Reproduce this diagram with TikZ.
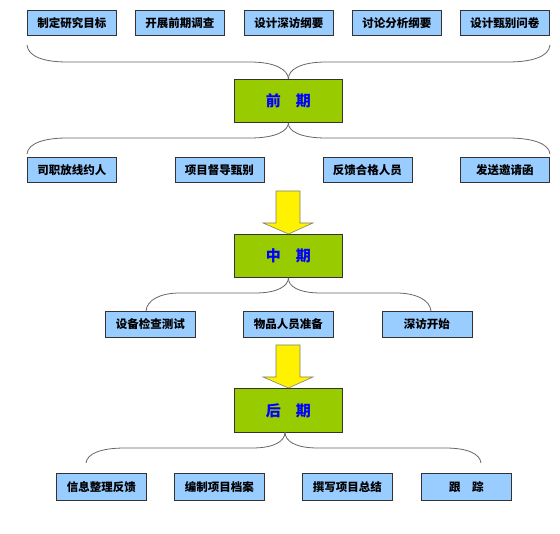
\documentclass[tikz,border=0pt]{standalone}
\usepackage{fontspec}
\newfontfamily\cjk{Noto Sans CJK SC}
\definecolor{itemblue}{HTML}{99CCFF}
\definecolor{phasegreen}{HTML}{99CC00}
\definecolor{bracegray}{HTML}{666666}
\definecolor{arrowedge}{HTML}{7F7F7F}
\begin{document}
\begin{tikzpicture}[x=1pt,y=-1pt,
  item/.style={draw=black!80, line width=0.9pt, fill=itemblue, minimum width=89pt, minimum height=25pt, inner sep=0pt, anchor=north west, font=\cjk\bfseries\fontsize{11.5}{12}\selectfont},
  phase/.style={draw=black!80, line width=0.9pt, fill=phasegreen, minimum width=108pt, minimum height=43pt, inner sep=0pt, anchor=north west, text=blue, font=\cjk\bfseries\fontsize{15}{16}\selectfont},
  bracecurve/.style={draw=bracegray, line width=0.8pt},
  blockarrow/.style={draw=arrowedge, line width=0.6pt, fill=yellow}]
\useasboundingbox (0,0) rectangle (560,534);
% row 1
\node[item] (a1) at (27,10) {制定研究目标};
\node[item] (a2) at (135,10) {开展前期调查};
\node[item] (a3) at (244,10) {设计深访纲要};
\node[item] (a4) at (352,10) {讨论分析纲要};
\node[item] (a5) at (460,10) {设计甄别问卷};
% phase 1
\node[phase] (qq) at (234,79) {前　期};
% row 2
\node[item] (b1) at (27,157) {司职放线约人};
\node[item] (b2) at (174.5,157) {项目督导甄别};
\node[item] (b3) at (322.5,157) {反馈合格人员};
\node[item] (b4) at (460,157) {发送邀请函};
% phase 2
\node[phase] (zq) at (234,234) {中　期};
% row 3
\node[item, minimum width=90pt, minimum height=26pt] (c1) at (105,311) {设备检查测试};
\node[item, minimum width=90pt, minimum height=26pt] (c2) at (243,311) {物品人员准备};
\node[item, minimum width=90pt, minimum height=26pt] (c3) at (381.5,311) {深访开始};
% phase 3
\node[phase, minimum height=44pt] (hq) at (234,388) {后　期};
% row 4
\node[item, minimum width=90pt, minimum height=27pt] (d1) at (56,473) {信息整理反馈};
\node[item, minimum width=90pt, minimum height=27pt] (d2) at (174,473) {编制项目档案};
\node[item, minimum width=90pt, minimum height=27pt] (d3) at (302,473) {撰写项目总结};
\node[item, minimum width=90pt, minimum height=27pt] (d4) at (421,473) {跟　踪};
% brace end points
\coordinate (e1l) at (27,45);
\coordinate (e1r) at (550,45);
\coordinate (e2l) at (27,154);
\coordinate (e2r) at (550,154);
\coordinate (e3l) at (146,311);
\coordinate (e3r) at (431,311);
\coordinate (t4) at (285,432);
\coordinate (e4l) at (86,463);
\coordinate (e4r) at (481,463);
% brace 1
\draw[bracecurve] (e1l) .. controls (28,57) and (45,62) .. (67,62) -- (250,62) .. controls (276,62) and (288,70) .. (qq.north);
\draw[bracecurve] (qq.north) .. controls (288,70) and (300,62) .. (326,62) -- (508,62) .. controls (531,62) and (549,57) .. (e1r);
% brace 2
\draw[bracecurve] (qq.south) .. controls (288,131) and (276,138) .. (250,138) -- (67,138) .. controls (45,138) and (28,143) .. (e2l);
\draw[bracecurve] (qq.south) .. controls (288,131) and (300,138) .. (326,138) -- (508,138) .. controls (531,138) and (549,143) .. (e2r);
% brace 3
\draw[bracecurve] (zq.south) .. controls (288,286) and (278,293) .. (255,293) -- (180,293) .. controls (160,293) and (147,300) .. (e3l);
\draw[bracecurve] (zq.south) .. controls (288,286) and (298,293) .. (321,293) -- (396,293) .. controls (416,293) and (430,300) .. (e3r);
% brace 4
\draw[bracecurve] (t4) .. controls (285,441) and (275,448) .. (252,448) -- (125,448) .. controls (100,448) and (87,454) .. (e4l);
\draw[bracecurve] (t4) .. controls (285,441) and (295,448) .. (318,448) -- (445,448) .. controls (468,448) and (480,454) .. (e4r);
% block arrows
\draw[blockarrow] (276,191) -- (300,191) -- (300,223) -- (313,223) -- (zq.north) -- (263,223) -- (276,223) -- cycle;
\draw[blockarrow] (276,345) -- (300,345) -- (300,377) -- (313,377) -- (hq.north) -- (263,377) -- (276,377) -- cycle;
\end{tikzpicture}
\end{document}
